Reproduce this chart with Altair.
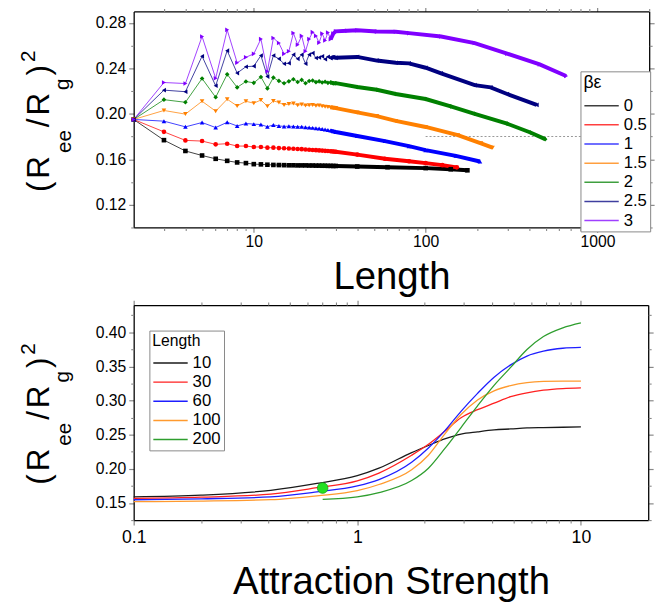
import altair as alt
import pandas as pd

# ---------------- top panel data ----------------
be_labels = ["0", "0.5", "1", "1.5", "2", "2.5", "3"]
be_colors = ["#000000", "#FF0000", "#0000FF", "#FF8000", "#008000", "#000080", "#8000FF"]
be_shapes = ["square", "circle", "triangle-up", "triangle-down", "diamond", "triangle-left", "triangle-right"]

L_short = list(range(2, 31))

v_be0 = [0.195, 0.1768, 0.1673, 0.1633, 0.1604, 0.1586, 0.1572, 0.1566, 0.1557, 0.1555,
         0.1552, 0.1550, 0.1549, 0.1548, 0.1547, 0.1547, 0.1546, 0.1546, 0.1546, 0.1545,
         0.1545, 0.1544, 0.1544, 0.1543, 0.1543, 0.1542, 0.1542, 0.1541, 0.1541]
tailL_be0 = [40, 60, 100, 140, 175]
tailv_be0 = [0.1536, 0.1530, 0.1522, 0.1512, 0.1503]

v_be05 = [0.195, 0.1841, 0.1766, 0.1760, 0.1731, 0.1737, 0.1716, 0.1716, 0.1708, 0.1708,
          0.1702, 0.1702, 0.1698, 0.1697, 0.1694, 0.1693, 0.1690, 0.1689, 0.1686, 0.1684,
          0.1682, 0.1680, 0.1678, 0.1676, 0.1674, 0.1672, 0.1670, 0.1668, 0.1666]
tailL_be05 = [40, 58, 80, 100, 125, 152]
tailv_be05 = [0.1641, 0.1605, 0.1583, 0.1566, 0.1548, 0.1529]

v_be1 = [0.195, 0.1935, 0.1885, 0.1923, 0.1879, 0.1925, 0.1893, 0.1914, 0.1909, 0.1905,
         0.1886, 0.1902, 0.1893, 0.1889, 0.1891, 0.1888, 0.1886, 0.1885, 0.1881, 0.1879,
         0.1876, 0.1873, 0.1870, 0.1866, 0.1862, 0.1857, 0.1852, 0.1846, 0.1840]
tailL_be1 = [40, 58, 80, 100, 150, 207]
tailv_be1 = [0.1805, 0.1760, 0.1715, 0.1680, 0.1630, 0.1580]

v_be15 = [0.195, 0.2029, 0.1997, 0.2110, 0.2023, 0.2128, 0.2069, 0.2110, 0.2093, 0.2121,
          0.2066, 0.2113, 0.2100, 0.2078, 0.2085, 0.2090, 0.2075, 0.2082, 0.2072, 0.2075,
          0.2078, 0.2070, 0.2072, 0.2066, 0.2062, 0.2060, 0.2056, 0.2053, 0.2050]
tailL_be15 = [40, 52, 67, 100, 154, 210, 245]
tailv_be15 = [0.2012, 0.1980, 0.1937, 0.1884, 0.1812, 0.1740, 0.1702]

v_be2 = [0.195, 0.2124, 0.2101, 0.2310, 0.2145, 0.2347, 0.2232, 0.2284, 0.2272, 0.2324,
         0.2223, 0.2318, 0.2289, 0.2269, 0.2285, 0.2304, 0.2280, 0.2298, 0.2269, 0.2288,
         0.2293, 0.2278, 0.2285, 0.2275, 0.2282, 0.2272, 0.2276, 0.2268, 0.2269]
tailL_be2 = [40, 52, 67, 100, 140, 193, 298, 407, 496]
tailv_be2 = [0.2235, 0.2211, 0.2174, 0.2130, 0.2065, 0.2000, 0.1913, 0.1835, 0.1777]

v_be25 = [0.195, 0.2208, 0.2194, 0.2506, 0.2246, 0.2555, 0.2358, 0.2414, 0.2419, 0.2512,
          0.2327, 0.2512, 0.2483, 0.2440, 0.2445, 0.2520, 0.2483, 0.2520, 0.2440, 0.2520,
          0.2535, 0.2490, 0.2495, 0.2505, 0.2480, 0.2502, 0.2488, 0.2498, 0.2492]
tailL_be25 = [40, 52, 67, 80, 100, 123, 193, 239, 298, 443]
tailv_be25 = [0.2500, 0.2468, 0.2449, 0.2443, 0.2405, 0.2356, 0.2252, 0.2232, 0.2174, 0.2078]

v_be3 = [0.195, 0.2275, 0.2266, 0.2680, 0.2312, 0.2738, 0.2449, 0.2497, 0.2527, 0.2658,
         0.2372, 0.2667, 0.2622, 0.2527, 0.2550, 0.2710, 0.2607, 0.2685, 0.2550, 0.2657,
         0.2718, 0.2685, 0.2625, 0.2705, 0.2645, 0.2715, 0.2655, 0.2705, 0.2725]
tailL_be3 = [35, 40, 52, 67, 80, 123, 193, 298, 461, 657]
tailv_be3 = [0.2730, 0.2735, 0.2723, 0.2722, 0.2709, 0.2680, 0.2622, 0.2529, 0.2434, 0.2332]

top_series = [
    ("0", v_be0, tailL_be0, tailv_be0),
    ("0.5", v_be05, tailL_be05, tailv_be05),
    ("1", v_be1, tailL_be1, tailv_be1),
    ("1.5", v_be15, tailL_be15, tailv_be15),
    ("2", v_be2, tailL_be2, tailv_be2),
    ("2.5", v_be25, tailL_be25, tailv_be25),
    ("3", v_be3, tailL_be3, tailv_be3),
]

ref_level = 0.18
ref_span = [100, 2000]

top_x_major = [10, 100, 1000]
top_x_minor = [3, 4, 5, 6, 7, 8, 9, 20, 30, 40, 50, 60, 70, 80, 90,
               200, 300, 400, 500, 600, 700, 800, 900, 2000]
top_y_major = [0.12, 0.16, 0.20, 0.24, 0.28]
top_y_minor = [0.10, 0.14, 0.18, 0.22, 0.26]

# ---------------- bottom panel data ----------------
len_labels = ["10", "30", "60", "100", "200"]
len_colors = ["#1a1a1a", "#FF2020", "#1E1EFF", "#FF9A2E", "#2E9E2E"]

strength = [0.1, 0.2, 0.41, 0.66, 1.0, 1.25, 1.75, 2.08, 2.46, 2.91, 3.45, 4.09, 4.85, 5.74, 6.8, 8.3, 10]
r_len10 = [0.1590, 0.1615, 0.1686, 0.1786, 0.1900, 0.2010, 0.2239, 0.2343, 0.2439, 0.2510, 0.2543,
           0.2571, 0.2585, 0.2600, 0.2605, 0.2610, 0.2614]
r_len30 = [0.1567, 0.1585, 0.1629, 0.1724, 0.1825, 0.1939, 0.2200, 0.2360, 0.2550, 0.2748, 0.2867,
           0.2963, 0.3057, 0.3114, 0.3153, 0.3177, 0.3186]
r_len60 = [0.1548, 0.1562, 0.1590, 0.1663, 0.1750, 0.1843, 0.2096, 0.2306, 0.2557, 0.2843, 0.3106,
           0.3343, 0.3524, 0.3653, 0.3724, 0.3767, 0.3780]
r_len100 = [0.1520, 0.1528, 0.1549, 0.1606, 0.1680, 0.1771, 0.1986, 0.2200, 0.2510, 0.2796, 0.3010,
            0.3143, 0.3220, 0.3263, 0.3281, 0.3286, 0.3286]
strength_200 = [0.7, 1.0, 1.25, 1.75, 2.08, 2.46, 2.91, 3.45, 4.09, 4.85, 5.74, 6.8, 8.3, 10]
r_len200 = [0.1555, 0.1590, 0.1653, 0.1829, 0.2010, 0.2296, 0.2606, 0.2924, 0.3224, 0.3486, 0.3749,
            0.3939, 0.4067, 0.4140]

marker_strength = [0.7]
marker_ratio = [0.172]

bot_x_major = [0.1, 1, 10]
bot_x_minor = [0.2, 0.3, 0.4, 0.5, 0.6, 0.7, 0.8, 0.9, 2, 3, 4, 5, 6, 7, 8, 9]
bot_y_major = [0.15, 0.20, 0.25, 0.30, 0.35, 0.40]
bot_y_minor = [0.125, 0.175, 0.225, 0.275, 0.325, 0.375, 0.425]

FONT = "Liberation Sans"
LEG_LINE = "M-1,0H2.5"

# ---------------- build tables ----------------
rows = []
for lab, vs, tl, tv in top_series:
    for L, v in zip(L_short, vs):
        rows.append({"L": L, "v": v, "be": lab, "bs": lab})
    for L, v in zip(tl, tv):
        rows.append({"L": L, "v": v, "be": lab, "bs": lab})
top_df = pd.DataFrame(rows)

rows = []
for lab, xs, ys in [("10", strength, r_len10), ("30", strength, r_len30), ("60", strength, r_len60),
                    ("100", strength, r_len100), ("200", strength_200, r_len200)]:
    for a, r in zip(xs, ys):
        rows.append({"a": a, "r": r, "len": lab})
bot_df = pd.DataFrame(rows)
dot_df = pd.DataFrame({"a": marker_strength, "r": marker_ratio})
ref_df = pd.DataFrame({"x1": [ref_span[0]], "x2": [ref_span[1]], "y": [ref_level]})

# ---------------- helpers ----------------
def axis_major(orient, values, fmt, labels=True, title=None, lsize=16, lpad=3, tpad=7):
    kw = dict(orient=orient, values=values, tickSize=5, tickWidth=1.2, domain=True,
              domainColor="black", domainWidth=1.3, grid=False, labels=labels,
              labelFontSize=lsize, labelPadding=lpad, labelFont=FONT, labelColor="black",
              labelFlush=False, labelOverlap=False)
    if fmt:
        kw["format"] = fmt
    if title:
        kw.update(title=title, titleFontSize=39, titleFontWeight="normal", titleFont=FONT,
                  titlePadding=tpad, titleColor="black")
    else:
        kw["title"] = None
    return alt.Axis(**kw)


def axis_minor(orient, values):
    return alt.Axis(orient=orient, values=values, tickSize=3, tickWidth=1.1, domain=False,
                    grid=False, labels=False, title=None)


def line_legend(title, tsize, lx, ly):
    return alt.Legend(title=title, orient="none", legendX=lx, legendY=ly, symbolType=LEG_LINE,
                      symbolSize=400, symbolStrokeWidth=1.5, labelFontSize=17, titleFontSize=tsize,
                      titleFontWeight="normal", labelFont=FONT, titleFont=FONT, strokeColor="#888888",
                      fillColor="white", padding=3, labelOffset=19, rowPadding=0.5, titlePadding=3,
                      labelColor="black", titleColor="black")


adv = {"(": 0.333, ")": 0.333, "R": 0.722, "/": 0.278, "e": 0.556, "g": 0.556, "2": 0.556}
title_pieces = [("(", 32, 0), ("R", 32, 0), ("ee", 21, 22), ("/", 32, 0), ("R", 32, 0),
                ("g", 21, 20), (")", 32, 0), ("2", 21, -14)]


def ytitle_layers(x0, y0, gap=3):
    layers = []
    off = 0.0
    for txt, fs, dy in title_pieces:
        layers.append(
            alt.Chart(pd.DataFrame({"t": [txt]}))
            .mark_text(angle=270, align="left", baseline="alphabetic", fontSize=fs, font=FONT,
                       dx=off, dy=dy, color="black")
            .encode(x=alt.value(x0), y=alt.value(y0), text="t:N")
        )
        off += sum(adv[c] for c in txt) * fs + gap
    return layers


# ---------------- top panel ----------------
tx_scale = alt.Scale(type="log", domain=[2, 2000], nice=False)
ty_scale = alt.Scale(domain=[0.10, 0.29], nice=False, zero=False)


def TX(axis=None, title=None):
    return alt.X("L:Q", scale=tx_scale, axis=axis, title=title)


def TY(axis=None):
    return alt.Y("v:Q", scale=ty_scale, axis=axis, title=None)


tcolor_leg = alt.Color("be:N", scale=alt.Scale(domain=be_labels, range=be_colors),
                       legend=line_legend("βε", 18, 455, 61))
tcolor = alt.Color("be:N", scale=alt.Scale(domain=be_labels, range=be_colors), legend=None)

t_base = alt.Chart(top_df)
t_thin = t_base.mark_line(strokeWidth=1, opacity=0.75).encode(x=TX(), y=TY(), color=tcolor_leg)
t_thick = t_base.transform_filter(alt.datum.L >= 28).mark_line(strokeWidth=4).encode(
    x=TX(), y=TY(), color=tcolor)
t_pts = t_base.mark_point(filled=True, size=22, opacity=1).encode(
    x=TX(), y=TY(), color=tcolor,
    shape=alt.Shape("bs:N", scale=alt.Scale(domain=be_labels, range=be_shapes), legend=None))
t_ref = alt.Chart(ref_df).mark_rule(color="#999999", strokeDash=[2, 2], strokeWidth=1.2).encode(
    x=alt.X("x1:Q", scale=tx_scale, axis=None), x2="x2:Q", y=alt.Y("y:Q", scale=ty_scale, axis=None))

inv = t_base.mark_point(opacity=0)
t_axes = [
    inv.encode(x=TX(axis_major("bottom", top_x_major, "~g", title="Length", lsize=16, lpad=1, tpad=9)), y=TY()),
    inv.encode(x=TX(axis_minor("bottom", top_x_minor)), y=TY()),
    inv.encode(x=TX(axis_major("top", top_x_major, None, labels=False)), y=TY()),
    inv.encode(x=TX(axis_minor("top", top_x_minor)), y=TY()),
    inv.encode(x=TX(), y=TY(axis_major("left", top_y_major, ".2f", lsize=16, lpad=3))),
    inv.encode(x=TX(), y=TY(axis_minor("left", top_y_minor))),
    inv.encode(x=TX(), y=TY(axis_major("right", top_y_major, None, labels=False))),
    inv.encode(x=TX(), y=TY(axis_minor("right", top_y_minor))),
]

top = alt.layer(t_ref, t_thin, t_thick, t_pts, *t_axes, *ytitle_layers(-86, 184)).resolve_axis(
    x="independent", y="independent").resolve_scale(
    color="independent", shape="independent").properties(width=525, height=220)

# ---------------- bottom panel ----------------
bx_scale = alt.Scale(type="log", domain=[0.1, 20], nice=False)
by_scale = alt.Scale(domain=[0.125, 0.44], nice=False, zero=False)


def BX(axis=None, title=None):
    return alt.X("a:Q", scale=bx_scale, axis=axis, title=title)


def BY(axis=None):
    return alt.Y("r:Q", scale=by_scale, axis=axis, title=None)


bcolor_leg = alt.Color("len:N", scale=alt.Scale(domain=len_labels, range=len_colors),
                       legend=line_legend("Length", 16, 16, 26))

b_base = alt.Chart(bot_df)
b_lines = b_base.mark_line(strokeWidth=1.3, interpolate="monotone").encode(
    x=BX(), y=BY(), color=bcolor_leg)
b_dot = alt.Chart(dot_df).mark_point(filled=True, size=120, color="#22E022", opacity=1,
                                    stroke="#109010", strokeWidth=0.6).encode(
    x=alt.X("a:Q", scale=bx_scale, axis=None), y=alt.Y("r:Q", scale=by_scale, axis=None))

binv = b_base.mark_point(opacity=0)
b_axes = [
    binv.encode(x=BX(axis_major("bottom", bot_x_major, "~g", title="Attraction Strength", lsize=18, lpad=4, tpad=17)), y=BY()),
    binv.encode(x=BX(axis_minor("bottom", bot_x_minor)), y=BY()),
    binv.encode(x=BX(axis_major("top", bot_x_major, None, labels=False)), y=BY()),
    binv.encode(x=BX(axis_minor("top", bot_x_minor)), y=BY()),
    binv.encode(x=BX(), y=BY(axis_major("left", bot_y_major, ".2f", lsize=16, lpad=3))),
    binv.encode(x=BX(), y=BY(axis_minor("left", bot_y_minor))),
    binv.encode(x=BX(), y=BY(axis_major("right", bot_y_major, None, labels=False))),
    binv.encode(x=BX(), y=BY(axis_minor("right", bot_y_minor))),
]

bottom = alt.layer(b_lines, b_dot, *b_axes, *ytitle_layers(-86, 183)).resolve_axis(
    x="independent", y="independent").properties(width=524, height=219)

chart = alt.vconcat(top, bottom, spacing=3).resolve_scale(
    color="independent", shape="independent", x="independent", y="independent"
).resolve_legend(color="independent", shape="independent").properties(
    padding={"left": 11, "top": -8, "right": 5, "bottom": 0}
).configure_view(stroke=None)

chart.save("out.html", embed_options={"renderer": "svg", "actions": False})
